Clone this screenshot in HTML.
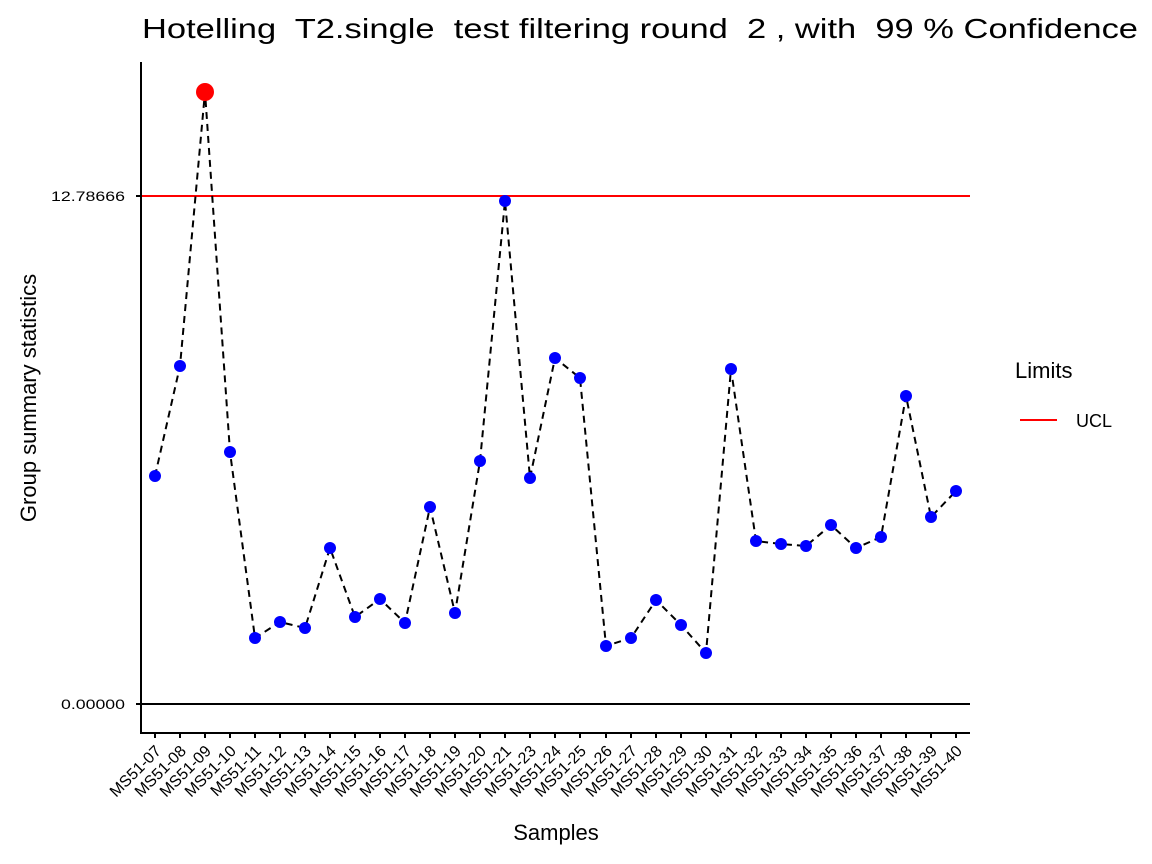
<!DOCTYPE html>
<html><head><meta charset="utf-8"><style>body{margin:0;background:#fff}svg{display:block}text{font-family:"Liberation Sans",sans-serif}</style></head><body>
<svg width="1152" height="864" viewBox="0 0 1152 864" xmlns="http://www.w3.org/2000/svg">
<rect width="1152" height="864" fill="#fff"/>
<text x="142" y="38" font-size="28" style="white-space:pre" xml:space="preserve" textLength="996" lengthAdjust="spacingAndGlyphs">Hotelling  T2.single  test filtering round  2 , with  99 % Confidence</text>
<line x1="141" y1="704" x2="970" y2="704" stroke="#000" stroke-width="2"/>
<line x1="141" y1="196" x2="970" y2="196" stroke="#f00" stroke-width="2"/>
<polyline fill="none" stroke="#000" stroke-width="2" stroke-dasharray="7,5" points="155,476 180,366 205,92 230,452 255,638 280,622 305,628 330,548 355,617 380,599 405,623 430,507 455,613 480,461 505,201 530,478 555,358 580,378 606,646 631,638 656,600 681,625 706,653 731,369 756,541 781,544 806,546 831,525 856,548 881,537 906,396 931,517 956,491"/>
<g fill="#00f">
<circle cx="155" cy="476" r="6"/><circle cx="180" cy="366" r="6"/><circle cx="230" cy="452" r="6"/><circle cx="255" cy="638" r="6"/><circle cx="280" cy="622" r="6"/><circle cx="305" cy="628" r="6"/><circle cx="330" cy="548" r="6"/><circle cx="355" cy="617" r="6"/><circle cx="380" cy="599" r="6"/><circle cx="405" cy="623" r="6"/><circle cx="430" cy="507" r="6"/><circle cx="455" cy="613" r="6"/><circle cx="480" cy="461" r="6"/><circle cx="505" cy="201" r="6"/><circle cx="530" cy="478" r="6"/><circle cx="555" cy="358" r="6"/><circle cx="580" cy="378" r="6"/><circle cx="606" cy="646" r="6"/><circle cx="631" cy="638" r="6"/><circle cx="656" cy="600" r="6"/><circle cx="681" cy="625" r="6"/><circle cx="706" cy="653" r="6"/><circle cx="731" cy="369" r="6"/><circle cx="756" cy="541" r="6"/><circle cx="781" cy="544" r="6"/><circle cx="806" cy="546" r="6"/><circle cx="831" cy="525" r="6"/><circle cx="856" cy="548" r="6"/><circle cx="881" cy="537" r="6"/><circle cx="906" cy="396" r="6"/><circle cx="931" cy="517" r="6"/><circle cx="956" cy="491" r="6"/>
</g>
<circle cx="205" cy="92" r="9" fill="#f00"/>
<path d="M141,62 V733 H970" fill="none" stroke="#000" stroke-width="2"/>
<path d="M136,196H141M136,704H141" stroke="#000" stroke-width="2"/>
<text x="51" y="201" font-size="14" textLength="74" lengthAdjust="spacingAndGlyphs">12.78666</text>
<text x="61" y="709" font-size="14" textLength="64" lengthAdjust="spacingAndGlyphs">0.00000</text>
<g stroke="#000" stroke-width="2">
<path d="M155,733v5M180,733v5M205,733v5M230,733v5M255,733v5M280,733v5M305,733v5M330,733v5M355,733v5M380,733v5M405,733v5M430,733v5M455,733v5M480,733v5M505,733v5M530,733v5M555,733v5M580,733v5M606,733v5M631,733v5M656,733v5M681,733v5M706,733v5M731,733v5M756,733v5M781,733v5M806,733v5M831,733v5M856,733v5M881,733v5M906,733v5M931,733v5M956,733v5"/>
</g>
<g font-size="16" text-anchor="end">
<text transform="translate(162,752) rotate(-45)">MS51-07</text>
<text transform="translate(187,752) rotate(-45)">MS51-08</text>
<text transform="translate(212,752) rotate(-45)">MS51-09</text>
<text transform="translate(237,752) rotate(-45)">MS51-10</text>
<text transform="translate(262,752) rotate(-45)">MS51-11</text>
<text transform="translate(287,752) rotate(-45)">MS51-12</text>
<text transform="translate(312,752) rotate(-45)">MS51-13</text>
<text transform="translate(337,752) rotate(-45)">MS51-14</text>
<text transform="translate(362,752) rotate(-45)">MS51-15</text>
<text transform="translate(387,752) rotate(-45)">MS51-16</text>
<text transform="translate(412,752) rotate(-45)">MS51-17</text>
<text transform="translate(437,752) rotate(-45)">MS51-18</text>
<text transform="translate(462,752) rotate(-45)">MS51-19</text>
<text transform="translate(487,752) rotate(-45)">MS51-20</text>
<text transform="translate(512,752) rotate(-45)">MS51-21</text>
<text transform="translate(537,752) rotate(-45)">MS51-23</text>
<text transform="translate(562,752) rotate(-45)">MS51-24</text>
<text transform="translate(587,752) rotate(-45)">MS51-25</text>
<text transform="translate(613,752) rotate(-45)">MS51-26</text>
<text transform="translate(638,752) rotate(-45)">MS51-27</text>
<text transform="translate(663,752) rotate(-45)">MS51-28</text>
<text transform="translate(688,752) rotate(-45)">MS51-29</text>
<text transform="translate(713,752) rotate(-45)">MS51-30</text>
<text transform="translate(738,752) rotate(-45)">MS51-31</text>
<text transform="translate(763,752) rotate(-45)">MS51-32</text>
<text transform="translate(788,752) rotate(-45)">MS51-33</text>
<text transform="translate(813,752) rotate(-45)">MS51-34</text>
<text transform="translate(838,752) rotate(-45)">MS51-35</text>
<text transform="translate(863,752) rotate(-45)">MS51-36</text>
<text transform="translate(888,752) rotate(-45)">MS51-37</text>
<text transform="translate(913,752) rotate(-45)">MS51-38</text>
<text transform="translate(938,752) rotate(-45)">MS51-39</text>
<text transform="translate(963,752) rotate(-45)">MS51-40</text>
</g>
<text x="556" y="840" font-size="22" text-anchor="middle">Samples</text>
<text transform="translate(36,398) rotate(-90)" font-size="22" text-anchor="middle">Group summary statistics</text>
<text x="1015" y="378" font-size="22">Limits</text>
<line x1="1020" y1="420" x2="1057" y2="420" stroke="#f00" stroke-width="2"/>
<text x="1076" y="427" font-size="18">UCL</text>
</svg>
</body></html>
